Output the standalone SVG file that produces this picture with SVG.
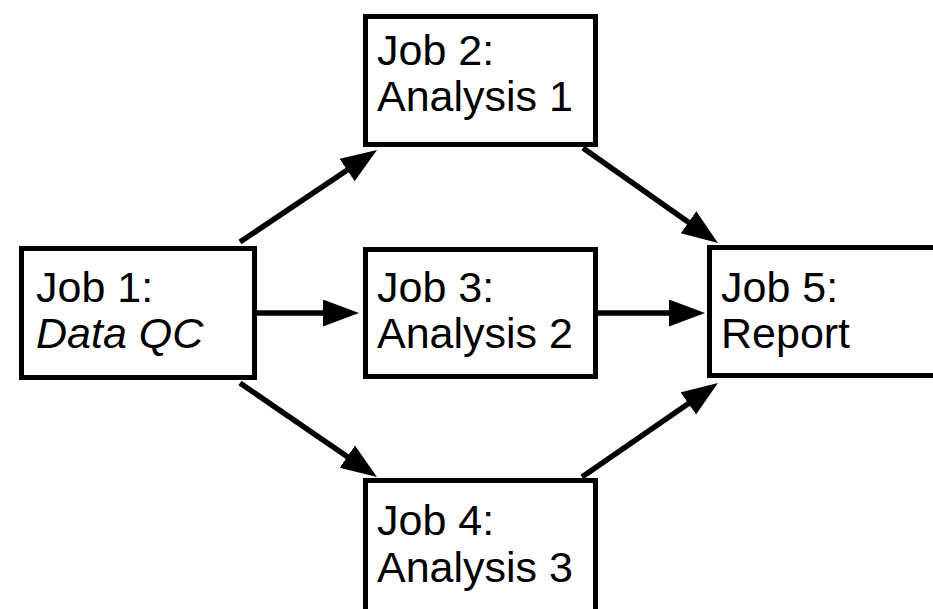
<svg xmlns="http://www.w3.org/2000/svg" width="933" height="609" viewBox="0 0 933 609">
<style>
.box{fill:#fff;stroke:#000;stroke-width:5}
.lbl{font-family:"Liberation Sans",Arial,Helvetica,sans-serif;font-size:43px;fill:#000}
.it{font-style:italic}
.edge{stroke:#000;stroke-width:5.5;fill:none;marker-end:url(#ah)}
</style>
<defs>
<marker id="ah" markerUnits="userSpaceOnUse" markerWidth="40" markerHeight="30" refX="16" refY="13.5" orient="auto">
<path d="M0,0 L36,13.5 L0,27 Z" fill="#000"/>
</marker>
</defs>
<rect width="933" height="609" fill="#fff"/>
<g id="connectors">
<line class="edge" x1="240" y1="242" x2="360.4" y2="161.2"/>
<line class="edge" x1="257" y1="313" x2="339" y2="313"/>
<line class="edge" x1="240" y1="383" x2="360.5" y2="465.7"/>
<line class="edge" x1="583" y1="148" x2="701.6" y2="231.5"/>
<line class="edge" x1="598" y1="313" x2="685" y2="313"/>
<line class="edge" x1="582" y1="477" x2="701.5" y2="394.4"/>
</g>
<g id="job1">
<rect class="box" x="21.5" y="248.5" width="233" height="129"/>
<text class="lbl" x="36" y="302">Job 1:</text>
<text class="lbl it" x="36" y="348">Data QC</text>
</g>
<g id="job2">
<rect class="box" x="365.5" y="16.5" width="230" height="128"/>
<text class="lbl" x="377" y="65">Job 2:</text>
<text class="lbl" x="377" y="111">Analysis 1</text>
</g>
<g id="job3">
<rect class="box" x="365.5" y="249.5" width="230" height="127"/>
<text class="lbl" x="377" y="302">Job 3:</text>
<text class="lbl" x="377" y="348">Analysis 2</text>
</g>
<g id="job4">
<rect class="box" x="365.5" y="480.5" width="230" height="160"/>
<text class="lbl" x="377" y="535">Job 4:</text>
<text class="lbl" x="377" y="582">Analysis 3</text>
</g>
<g id="job5">
<rect class="box" x="709.5" y="247.5" width="260" height="128"/>
<text class="lbl" x="721" y="302">Job 5:</text>
<text class="lbl" x="721" y="348">Report</text>
</g>
</svg>
